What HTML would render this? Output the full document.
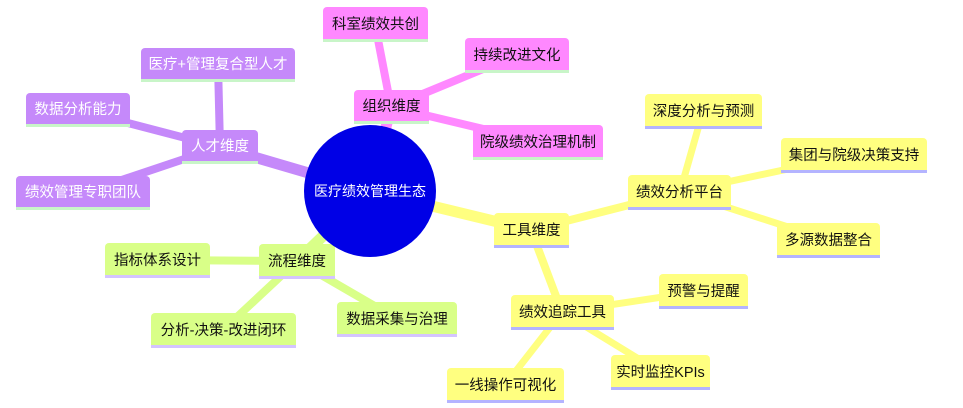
<!DOCTYPE html>
<html><head><meta charset="utf-8"><style>
body{margin:0;width:963px;height:408px;background:#fff;overflow:hidden;position:relative;font-family:"Liberation Sans","Noto Sans CJK SC",sans-serif}
.n{position:absolute;box-sizing:border-box;border-radius:4px 4px 0 0;font-size:14.5px;display:flex;align-items:center;justify-content:center;white-space:nowrap}
.p{background:#c589fa;color:#fff;border-bottom:3px solid #c8f5c8}
.k{background:#ff88ff;color:#111;border-bottom:3px solid #c8f5c8}
.y{background:#ffff80;color:#111;border-bottom:3px solid #b4b4ff}
.g{background:#d9ff88;color:#111;border-bottom:3px solid #d4c4ff}
svg{position:absolute;left:0;top:0}
</style></head><body>
<svg width="963" height="408">
<g stroke-linecap="butt">
<g stroke="#c589fa">
<line x1="220" y1="147" x2="370" y2="191" stroke-width="11"/>
<line x1="220" y1="147" x2="218" y2="64" stroke-width="8"/>
<line x1="220" y1="147" x2="78" y2="110" stroke-width="8"/>
<line x1="220" y1="147" x2="83" y2="193" stroke-width="8"/>
</g>
<g stroke="#ff88ff">
<line x1="391" y1="107" x2="370" y2="191" stroke-width="11"/>
<line x1="391" y1="107" x2="375" y2="24" stroke-width="8"/>
<line x1="391" y1="107" x2="517" y2="55" stroke-width="8"/>
<line x1="391" y1="107" x2="538" y2="142" stroke-width="8"/>
</g>
<g stroke="#ffff80">
<line x1="531" y1="230" x2="370" y2="191" stroke-width="11"/>
<line x1="531" y1="230" x2="680" y2="192" stroke-width="8"/>
<line x1="531" y1="230" x2="562" y2="312" stroke-width="8"/>
<line x1="680" y1="192" x2="703" y2="111" stroke-width="7"/>
<line x1="680" y1="192" x2="854" y2="155" stroke-width="7"/>
<line x1="680" y1="192" x2="828" y2="240" stroke-width="7"/>
<line x1="562" y1="312" x2="703" y2="291" stroke-width="7"/>
<line x1="562" y1="312" x2="660" y2="372" stroke-width="7"/>
<line x1="562" y1="312" x2="505" y2="385" stroke-width="7"/>
</g>
<g stroke="#d9ff88">
<line x1="297" y1="261" x2="370" y2="191" stroke-width="11"/>
<line x1="297" y1="261" x2="157" y2="260" stroke-width="8"/>
<line x1="297" y1="261" x2="223" y2="330" stroke-width="8"/>
<line x1="297" y1="261" x2="397" y2="319" stroke-width="8"/>
</g>
</g>
</svg>
<div class="n k" style="left:323px;top:7px;width:105px;height:35px">科室绩效共创</div>
<div class="n p" style="left:141px;top:48px;width:154px;height:34px">医疗+管理复合型人才</div>
<div class="n p" style="left:26px;top:93px;width:104px;height:34px">数据分析能力</div>
<div class="n p" style="left:182px;top:130px;width:76px;height:34px">人才维度</div>
<div class="n p" style="left:16px;top:176px;width:134px;height:34px">绩效管理专职团队</div>
<div class="n k" style="left:354px;top:90px;width:75px;height:34px">组织维度</div>
<div class="n k" style="left:465px;top:38px;width:104px;height:35px">持续改进文化</div>
<div class="n k" style="left:473px;top:125px;width:130px;height:35px">院级绩效治理机制</div>
<div class="n g" style="left:105px;top:243px;width:105px;height:35px">指标体系设计</div>
<div class="n g" style="left:259px;top:244px;width:76px;height:35px">流程维度</div>
<div class="n g" style="left:151px;top:313px;width:145px;height:35px">分析-决策-改进闭环</div>
<div class="n g" style="left:337px;top:302px;width:120px;height:35px">数据采集与治理</div>
<div class="n y" style="left:645px;top:94px;width:117px;height:35px">深度分析与预测</div>
<div class="n y" style="left:781px;top:138px;width:146px;height:35px">集团与院级决策支持</div>
<div class="n y" style="left:628px;top:175px;width:103px;height:35px">绩效分析平台</div>
<div class="n y" style="left:494px;top:213px;width:75px;height:35px">工具维度</div>
<div class="n y" style="left:777px;top:223px;width:103px;height:35px">多源数据整合</div>
<div class="n y" style="left:659px;top:274px;width:89px;height:35px">预警与提醒</div>
<div class="n y" style="left:511px;top:295px;width:103px;height:35px">绩效追踪工具</div>
<div class="n y" style="left:611px;top:355px;width:99px;height:35px">实时监控KPIs</div>
<div class="n y" style="left:447px;top:368px;width:117px;height:35px">一线操作可视化</div>
<div style="position:absolute;left:304px;top:125px;width:132px;height:132px;border-radius:50%;background:#0000e6;color:#fff;font-size:14px;display:flex;align-items:center;justify-content:center">医疗绩效管理生态</div>
</body></html>
